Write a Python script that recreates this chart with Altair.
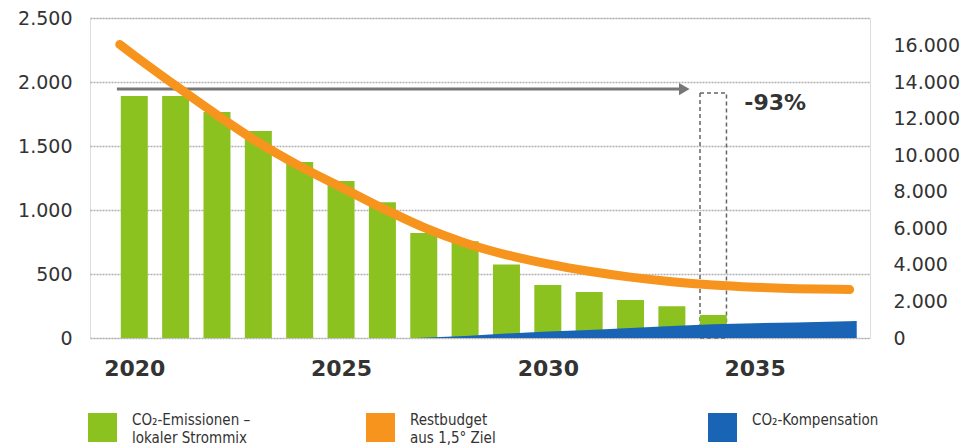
import altair as alt
import pandas as pd

# ---- data ----
years = list(range(2020, 2035))
emissions = [1890, 1890, 1766, 1617, 1375, 1227, 1060, 820, 755, 575, 414, 360, 297, 248, 180]

budget_years = [2019.65, 2020, 2021, 2022, 2023, 2024, 2025, 2026, 2027, 2028,
                2029, 2030, 2031, 2032, 2033, 2034, 2035, 2036, 2037, 2037.3]
budget_values = [16050, 15450, 13800, 12200, 10700, 9400, 8250, 7100, 6050, 5200,
                 4550, 4050, 3650, 3330, 3080, 2900, 2780, 2700, 2660, 2650]

comp_years = [2026.8, 2028, 2029, 2030, 2031, 2032, 2033, 2034, 2035, 2036, 2037, 2037.47]
comp_values = [0, 15, 35, 50, 63, 78, 93, 107, 115, 122, 129, 133]

x_ticks = [2020, 2025, 2030, 2035]
left_ticks = [0, 500, 1000, 1500, 2000, 2500]
right_ticks = [0, 2000, 4000, 6000, 8000, 10000, 12000, 14000, 16000]

arrow_start = [2019.58]
arrow_end = [2033.2]
arrow_tip = [2033.3]
arrow_level = [1945]
box_x = [2033.68]
box_x2 = [2034.32]
box_top = [1915]
pct_label = ["-93%"]
pct_x = [2035.5]
pct_y = [1836]

lbl_emis = "CO\u2082-Emissionen \u2013\nlokaler Strommix"
lbl_budget = "Restbudget\naus 1,5\u00b0 Ziel"
lbl_comp = "CO\u2082-Kompensation"

GREEN = "#8cc21f"
ORANGE = "#f7941d"
BLUE = "#1a64b5"
GREY = "#777777"
TXT = "#333333"
AX_FONT = "DejaVu Sans"
LEG_FONT = "Liberation Sans Narrow, DejaVu Sans Condensed, Roboto, sans-serif"
DE_FMT = "replace(format(datum.value, ',d'), ',', '.')"

bars_df = pd.DataFrame({"year": years, "value": emissions, "series": lbl_emis})
budget_df = pd.DataFrame({"year": budget_years, "value": budget_values, "series": lbl_budget})
comp_df = pd.DataFrame({"year": comp_years, "value": comp_values, "series": lbl_comp})
arrow_df = pd.DataFrame({"x": arrow_start, "x2": arrow_end, "tip": arrow_tip, "y": arrow_level})
box_df = pd.DataFrame({"x": box_x, "x2": box_x2, "y2": box_top})
pct_df = pd.DataFrame({"x": pct_x, "y": pct_y, "t": pct_label})

xscale = alt.Scale(domain=[2019.05, 2037.67], nice=False, zero=False)
lscale = alt.Scale(domain=[0, 2500], nice=False)
rscale = alt.Scale(domain=[0, 17500], nice=False)

x_axis = alt.Axis(values=x_ticks, format="d", title=None, grid=False, domain=False, ticks=False,
                  labelFont=AX_FONT, labelFontSize=22, labelFontWeight="bold", labelColor=TXT,
                  labelPadding=20)
l_axis = alt.Axis(values=left_ticks, title=None, domain=False, ticks=False, labelExpr=DE_FMT,
                  labelFont=AX_FONT, labelFontSize=19, labelColor=TXT, labelPadding=18,
                  grid=True, gridColor="#b0b0b0", gridDash=[2, 1], gridWidth=1.5)
r_axis = alt.Axis(values=right_ticks, title=None, domain=False, ticks=False, labelExpr=DE_FMT,
                  orient="right", grid=False,
                  labelFont=AX_FONT, labelFontSize=19, labelColor=TXT, labelPadding=23)


def X(field):
    return alt.X(field, scale=xscale, axis=x_axis)


def YL(field):
    return alt.Y(field, scale=lscale, axis=l_axis)


def legend(x, y, fill=None):
    kw = dict(orient="none", legendX=x, legendY=y, title=None, symbolType="square",
              symbolSize=841, symbolStrokeWidth=0, labelFont=LEG_FONT, labelFontSize=15,
              labelColor=TXT, labelOffset=15, labelLimit=400, padding=0,
              labelBaseline="bottom",
              labelExpr="split(datum.label, '\\n')")
    if fill:
        kw["symbolFillColor"] = fill
        kw["symbolStrokeColor"] = fill
    return alt.Legend(**kw)


box = alt.Chart(box_df).mark_rect(fillOpacity=0, stroke="#666666", strokeDash=[4, 3],
                                  strokeWidth=1.5).encode(
    x=X("x:Q"), x2="x2:Q", y=YL("y0:Q"), y2="y2:Q"
).transform_calculate(y0="0")

bars = alt.Chart(bars_df).mark_bar(size=27).encode(
    x=X("year:Q"), y=YL("value:Q"),
    color=alt.Color("series:N", scale=alt.Scale(domain=[lbl_emis], range=[GREEN]),
                    legend=legend(-2, 395)),
)

area = alt.Chart(comp_df).mark_area(opacity=1).encode(
    x=X("year:Q"), y=YL("value:Q"),
    color=alt.Color("series:N", scale=alt.Scale(domain=[lbl_comp], range=[BLUE]),
                    legend=legend(618, 395)),
)

arrow_line = alt.Chart(arrow_df).mark_rule(color=GREY, strokeWidth=3).encode(
    x=X("x:Q"), x2="x2:Q", y=YL("y:Q"),
)
arrow_head = alt.Chart(arrow_df).mark_point(shape="triangle-right", filled=True, size=150,
                                            color=GREY, opacity=1).encode(
    x=X("tip:Q"), y=YL("y:Q"),
)
pct = alt.Chart(pct_df).mark_text(font=AX_FONT, fontSize=22, fontWeight="bold", color=TXT,
                                  align="center", baseline="middle").encode(
    x=X("x:Q"), y=YL("y:Q"), text="t:N",
)

left = alt.layer(box, bars, area, arrow_line, arrow_head, pct).resolve_scale(color="independent")

line = alt.Chart(budget_df).mark_line(strokeWidth=9, interpolate="monotone", strokeCap="round").encode(
    x=X("year:Q"),
    y=alt.Y("value:Q", scale=rscale, axis=r_axis),
    color=alt.Color("series:N", scale=alt.Scale(domain=[lbl_budget], range=[ORANGE]),
                    legend=legend(276, 395, ORANGE)),
)

chart = alt.layer(left, line).resolve_scale(y="independent", color="independent").properties(
    width=780, height=320, autosize="none",
    padding={"left": 82, "top": 10, "right": 91, "bottom": 108},
    background="white",
).configure_view(stroke=None).configure(style={"guide-label": {"lineHeight": 18}})

chart.save("out.html", embed_options={"renderer": "svg", "actions": False})
